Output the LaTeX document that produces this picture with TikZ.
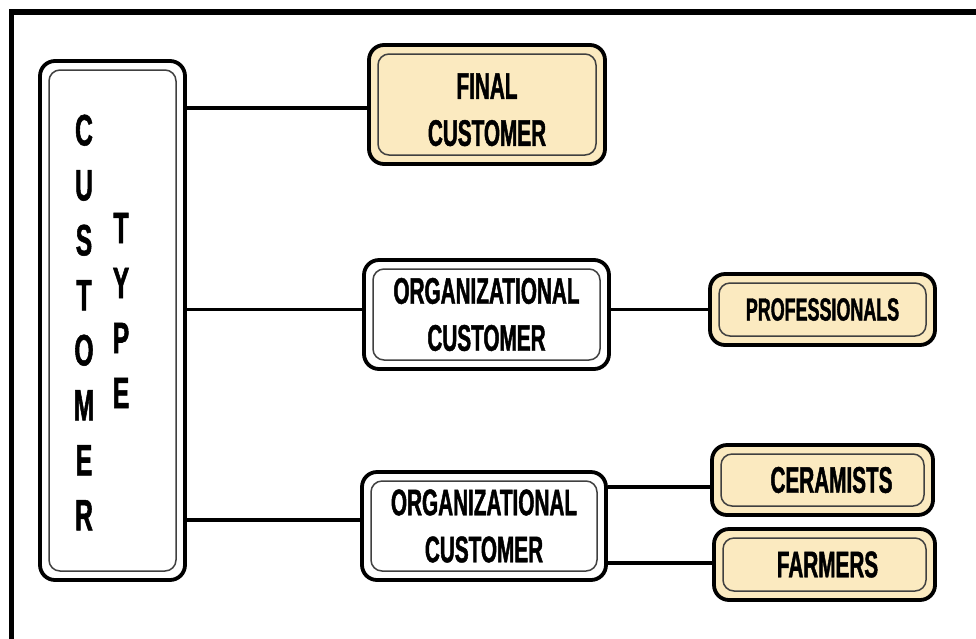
\documentclass[tikz,border=0pt]{standalone}
\usepackage{fontspec}
\newfontfamily\condfont[FakeStretch=0.56,FakeBold=1.2]{Liberation Sans}
\definecolor{cream}{HTML}{FBEAC0}
\tikzset{
  box/.style={draw=black, line width=3.8pt, rounded corners=15pt, inner sep=0pt,
    align=center, fill=white,
    font=\condfont\bfseries\fontsize{37}{47}\selectfont,
    path picture={\draw[line width=1.5pt, draw=black!75, rounded corners=11pt]
      ([shift={(9pt,-9pt)}]path picture bounding box.north west) rectangle
      ([shift={(-9pt,9pt)}]path picture bounding box.south east);}},
  leaf/.style={box, fill=cream},
  vlet/.style={inner sep=0pt, align=center,
    font=\condfont\bfseries\fontsize{44}{55}\selectfont},
  conn/.style={line width=3.8pt},
  frameline/.style={line width=5.5pt}
}
\begin{document}
\begin{tikzpicture}[x=1pt,y=-1pt]
\useasboundingbox (0,0) rectangle (976,638);
\begin{scope}
  \clip (0,0) rectangle (976,638);
  \draw[frameline] (11.5,700) -- (11.5,12) -- (1000,12);
\end{scope}
% boxes
\node[box, minimum width=145pt, minimum height=519pt] (ct) at (112.5,320.5) {};
\node[vlet] (cust) at (84,322.5) {C\\U\\S\\T\\O\\M\\E\\R};
\node[vlet] (type) at (121,310.5) {T\\Y\\P\\E};
\node[leaf, minimum width=236pt, minimum height=119pt] (fc) at (487,104.5) {\rule{0pt}{36pt}FINAL\\CUSTOMER};
\node[box, minimum width=245pt, minimum height=109pt] (o1) at (486.5,314.5) {ORGANIZATIONAL\\CUSTOMER};
\node[leaf, minimum width=225pt, minimum height=71pt, font=\condfont\bfseries\fontsize{32}{40}\selectfont] (pr) at (822.5,309.5) {PROFESSIONALS};
\node[box, minimum width=244pt, minimum height=108pt] (o2) at (484,526) {ORGANIZATIONAL\\CUSTOMER};
\node[leaf, minimum width=221pt, minimum height=70pt] (ce) at (822.5,480) {\hspace{18pt}CERAMISTS};
\node[leaf, minimum width=221pt, minimum height=71pt] (fa) at (824.5,564.5) {\hspace{6pt}FARMERS};
% connectors
\draw[conn] (ct.east |- fc.west) ++(0,3.5) -- ([yshift=-3.5pt]fc.west);
\draw[conn] (ct.east |- pr.west) -- (o1.west |- pr.west);
\draw[conn] (o1.east |- pr.west) -- (pr.west);
\draw[conn] ([yshift=6pt]o2.west -| ct.east) -- ([yshift=6pt]o2.west);
\draw[conn] ([yshift=-7pt]ce.west -| o2.east) -- ([yshift=-7pt]ce.west);
\draw[conn] ([yshift=1.5pt]fa.west -| o2.east) -- ([yshift=1.5pt]fa.west);
\end{tikzpicture}
\end{document}
